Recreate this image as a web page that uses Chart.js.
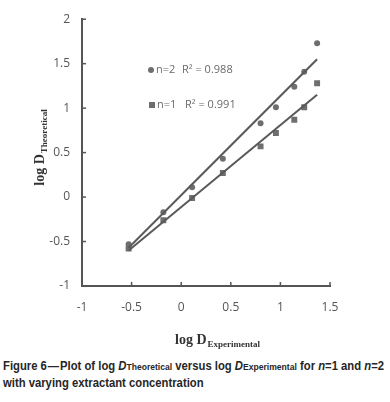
<!DOCTYPE html>
<html>
<head>
<meta charset="utf-8">
<script src="https://cdn.jsdelivr.net/npm/chart.js@4.4.1/dist/chart.umd.min.js"></script>
<style>
  body { margin: 0; background: #fff; width: 390px; height: 402px; overflow: hidden; }
  #wrap { position: relative; width: 390px; height: 350px; }
  #caption {
    position: absolute; left: 3px; top: 358px;
    font-family: "Liberation Sans", Arial, sans-serif; font-weight: bold;
    font-size: 12.5px; line-height: 16px; color: #262626; white-space: nowrap;
    transform-origin: 0 0;
  }
  #caption .sub { font-size: 9.5px; }
</style>
</head>
<body>
<div id="wrap"><canvas id="chart" width="390" height="350"></canvas></div>
<div id="caption"><span id="capLine1">Figure 6&#8202;&#8212;&#8202;Plot of log <i>D</i><span class="sub">Theoretical</span> versus log <i>D</i><span class="sub">Experimental</span> for <i>n</i>=1 and <i>n</i>=2</span><br>with varying extractant concentration</div>
<script>
// values
const xExp = [-0.53, -0.18, 0.11, 0.42, 0.80, 0.955, 1.14, 1.24, 1.37];
const yN2 = [-0.53, -0.17, 0.11, 0.43, 0.83, 1.01, 1.24, 1.41, 1.73];
const yN1 = [-0.58, -0.26, -0.01, 0.27, 0.57, 0.72, 0.87, 1.01, 1.28];

// trendline ends
const trendX = [-0.53, 1.37];
const trendN2 = [-0.57, 1.55];
const trendN1 = [-0.60, 1.15];

const xTicks = [-1, -0.5, 0, 0.5, 1, 1.5];
const yTicks = [-1, -0.5, 0, 0.5, 1, 1.5, 2];

const legendRows = [
  { name: 'n=2', r2: 'R\u00B2 = 0.988', style: 'circle' },
  { name: 'n=1', r2: 'R\u00B2 = 0.991', style: 'rect' }
];

const toPts = (xs, ys) => xs.map((x, i) => ({ x: x, y: ys[i] }));

const markGray = '#6e6e6e';
const lineGray = '#595959';
const axisGray = '#555';

// squeeze caption first line into the page width (narrow font in the original)
const cap = document.getElementById('caption');
const line1 = document.getElementById('capLine1');
const lw = line1.getBoundingClientRect().width;
cap.style.transform = 'scaleX(' + Math.min(1, 381 / lw) + ')';

// ticks inside the axes, titles with subscripts, text legend
const extras = {
  id: 'extras',
  afterDraw(chart) {
    const ctx = chart.ctx;
    const xs = chart.scales.x, ys = chart.scales.y;
    const a = chart.chartArea;
    ctx.save();
    ctx.strokeStyle = axisGray;
    ctx.lineWidth = 1.5;
    xTicks.forEach(v => {
      const px = xs.getPixelForValue(v);
      ctx.beginPath(); ctx.moveTo(px, a.bottom); ctx.lineTo(px, a.bottom - 4); ctx.stroke();
    });
    yTicks.forEach(v => {
      const py = ys.getPixelForValue(v);
      ctx.beginPath(); ctx.moveTo(a.left, py); ctx.lineTo(a.left + 4, py); ctx.stroke();
    });

    // x title
    ctx.fillStyle = '#333';
    ctx.textBaseline = 'alphabetic';
    ctx.textAlign = 'left';
    const mainFont = 'bold 14px "Liberation Serif", "Times New Roman", serif';
    const subFont = 'bold 9px "Liberation Serif", "Times New Roman", serif';
    ctx.font = mainFont;
    let w1 = ctx.measureText('log D').width;
    ctx.font = subFont;
    let w2 = ctx.measureText('Experimental').width;
    let x0 = 217 - (w1 + w2) / 2;
    ctx.font = mainFont; ctx.fillText('log D', x0, 344);
    ctx.font = subFont; ctx.fillText('Experimental', x0 + w1 + 1, 347);

    // y title, rotated
    ctx.save();
    ctx.translate(44, 148);
    ctx.rotate(-Math.PI / 2);
    ctx.font = mainFont;
    w1 = ctx.measureText('log D').width;
    ctx.font = subFont;
    w2 = ctx.measureText('Theoretical').width;
    x0 = -(w1 + w2) / 2;
    ctx.font = mainFont; ctx.fillText('log D', x0, 0);
    ctx.font = subFont; ctx.fillText('Theoretical', x0 + w1 + 1, 3);
    ctx.restore();

    // legend text inside plot
    ctx.font = '11px "Open Sans", "Noto Sans", sans-serif';
    ctx.textBaseline = 'middle';
    legendRows.forEach((r, i) => {
      const cy = 70 + i * 35;
      const bx = 151 + i;
      ctx.fillStyle = markGray;
      ctx.beginPath();
      if (r.style === 'circle') ctx.arc(bx, cy, 3, 0, Math.PI * 2);
      else ctx.rect(bx - 3, cy - 3, 6, 6);
      ctx.fill();
      ctx.fillStyle = '#6a6a6a';
      ctx.fillText(r.name, bx + 5, cy);
      ctx.fillText(r.r2, bx + 31 + i * 2, cy);
    });
    ctx.restore();
  }
};

const tickFont = { family: '"Open Sans", "Noto Sans", sans-serif', size: 12 };
const plainNum = v => String(v);

new Chart(document.getElementById('chart'), {
  type: 'scatter',
  data: {
    datasets: [
      {
        label: 'n=2 trend', type: 'line', data: toPts(trendX, trendN2),
        borderColor: lineGray, borderWidth: 2, pointRadius: 0, fill: false, order: 0
      },
      {
        label: 'n=1 trend', type: 'line', data: toPts(trendX, trendN1),
        borderColor: lineGray, borderWidth: 2, pointRadius: 0, fill: false, order: 0
      },
      {
        label: 'n=2', data: toPts(xExp, yN2), pointStyle: 'circle',
        pointRadius: 3, backgroundColor: markGray, borderColor: markGray, borderWidth: 0, order: 1
      },
      {
        label: 'n=1', data: toPts(xExp, yN1), pointStyle: 'rect',
        pointRadius: 4.2, backgroundColor: markGray, borderColor: markGray, borderWidth: 0, order: 1
      }
    ]
  },
  options: {
    responsive: false,
    animation: false,
    events: [],
    layout: { padding: { top: 11, right: 60, left: 0, bottom: 0 } },
    plugins: { legend: { display: false }, tooltip: { enabled: false } },
    scales: {
      x: {
        type: 'linear', min: -1, max: 1.5,
        afterFit: s => { s.height = 64; },
        afterBuildTicks: s => { s.ticks = xTicks.map(v => ({ value: v })); },
        grid: { display: false, drawTicks: false },
        border: { display: true, color: axisGray, width: 2 },
        ticks: { padding: 14, color: '#555', font: tickFont, callback: plainNum }
      },
      y: {
        type: 'linear', min: -1, max: 2,
        afterFit: s => { s.width = 82; },
        afterBuildTicks: s => { s.ticks = yTicks.map(v => ({ value: v })); },
        grid: { display: false, drawTicks: false },
        border: { display: true, color: axisGray, width: 2 },
        ticks: { padding: 12, color: '#555', font: tickFont, callback: plainNum }
      }
    }
  },
  plugins: [extras]
});
</script>
</body>
</html>
